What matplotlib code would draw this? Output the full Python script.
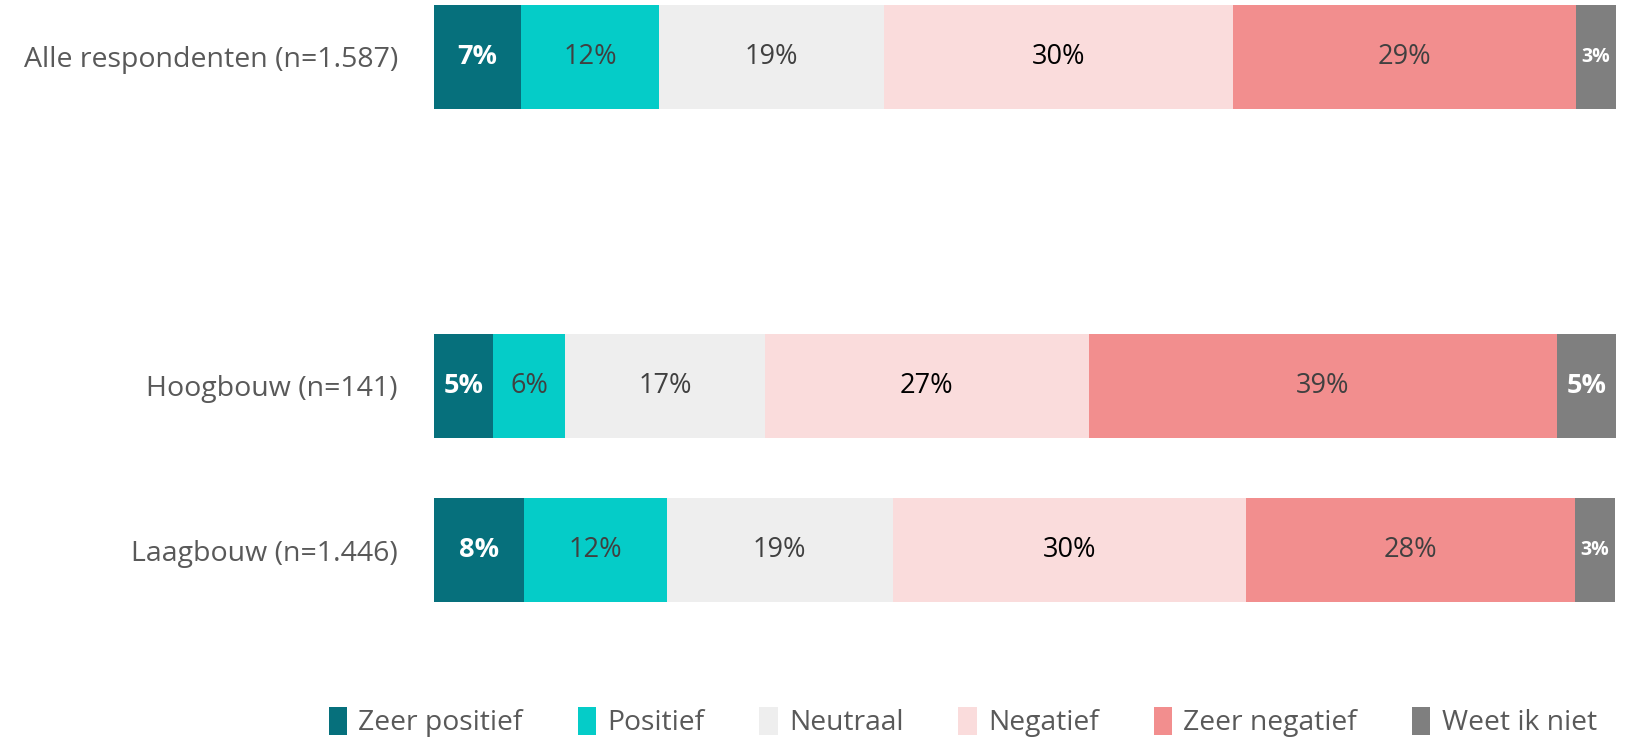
import matplotlib
matplotlib.use("Agg")
import matplotlib.pyplot as plt
from matplotlib.patches import Patch

plt.rcParams['font.family'] = ['Open Sans', 'DejaVu Sans']

categories = ["Alle respondenten (n=1.587)", "Hoogbouw (n=141)", "Laagbouw (n=1.446)"]
positions = [0, 2, 3]
series = ["Zeer positief", "Positief", "Neutraal", "Negatief", "Zeer negatief", "Weet ik niet"]
# bar widths (share of row, %)
values = {
    "Zeer positief": [7.4, 5.0, 7.6],
    "Positief": [11.6, 6.1, 12.1],
    "Neutraal": [19.1, 16.9, 19.1],
    "Negatief": [29.5, 27.4, 29.9],
    "Zeer negatief": [29.0, 39.6, 27.8],
    "Weet ik niet": [3.4, 5.0, 3.4],
}
labels = {
    "Zeer positief": ["7%", "5%", "8%"],
    "Positief": ["12%", "6%", "12%"],
    "Neutraal": ["19%", "17%", "19%"],
    "Negatief": ["30%", "27%", "30%"],
    "Zeer negatief": ["29%", "39%", "28%"],
    "Weet ik niet": ["3%", "5%", "3%"],
}
colors = ["#06707C", "#05CCC8", "#EEEEEE", "#FADCDC", "#F28E8E", "#7F7F7F"]
text_colors = ["white", "#404040", "#404040", "black", "#404040", "white"]
text_weights = ["bold", "normal", "normal", "normal", "normal", "bold"]

fig = plt.figure(figsize=(16.27, 7.39), dpi=100)
ax = fig.add_axes([434/1627, 1-602/739, (1616-434)/1627, 597/739])

lefts = [0.0] * len(categories)
for s, c, tc, tw in zip(series, colors, text_colors, text_weights):
    vals = values[s]
    bars = ax.barh(positions, vals, left=lefts, height=0.63, color=c, edgecolor='none')
    for i, (b, v) in enumerate(zip(bars, vals)):
        fs = 14 if v < 4 else 19.5
        ax.text(lefts[i] + v / 2, positions[i], labels[s][i], ha='center', va='center',
                color=tc, fontsize=fs, fontweight=tw)
    lefts = [l + v for l, v in zip(lefts, vals)]

ax.set_xlim(0, 100)
ax.set_ylim(3.315, -0.315)
ax.set_yticks(positions)
ax.set_yticklabels(categories, fontsize=20.5, color="#595959")
ax.tick_params(axis='y', length=0, pad=26)
ax.set_xticks([])
for sp in ax.spines.values():
    sp.set_visible(False)

handles = [Patch(facecolor=c, edgecolor='none') for c in colors]
leg = fig.legend(handles, series, loc='center right',
                 ncol=6, frameon=False, fontsize=20.3, handlelength=0.65, handleheight=1.2,
                 handletextpad=0.4, columnspacing=1.95, labelcolor="#595959")
leg.set_bbox_to_anchor((0.997, 1 - 722/739), transform=fig.transFigure)

fig.savefig("out.png", dpi=100)
